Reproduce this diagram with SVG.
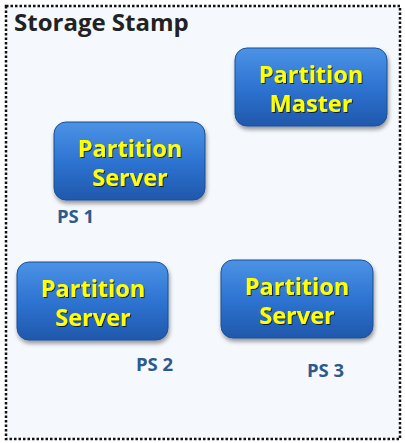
<svg xmlns="http://www.w3.org/2000/svg" width="405" height="443" viewBox="0 0 405 443">
<defs>
<linearGradient id="g" x1="0" y1="0" x2="0" y2="1">
<stop offset="0" stop-color="#4b93e6"/>
<stop offset="0.5" stop-color="#2e74d2"/>
<stop offset="1" stop-color="#2058ac"/>
</linearGradient>
<filter id="sh" x="-20%" y="-20%" width="140%" height="150%">
<feDropShadow dx="1" dy="3" stdDeviation="2" flood-color="#000" flood-opacity="0.4"/>
</filter>
<filter id="ts" x="-10%" y="-20%" width="120%" height="150%">
<feDropShadow dx="1" dy="1" stdDeviation="0.6" flood-color="#000" flood-opacity="0.7"/>
</filter>
</defs>
<style>
.box{fill:url(#g);stroke:#1d4f96;stroke-width:1;filter:url(#sh)}
.t{font-family:"Open Sans","Noto Sans",sans-serif;font-weight:bold;font-size:23.5px;fill:#ffff00;text-anchor:middle;filter:url(#ts)}
.lbl{font-family:"Open Sans","Noto Sans",sans-serif;font-weight:bold;font-size:18.5px;fill:#2c5a8c}
</style>
<rect x="0" y="0" width="405" height="443" fill="#ffffff"/>
<rect x="6" y="6" width="394" height="433" fill="#f5f8fc" stroke="#111" stroke-width="2.5" stroke-dasharray="2.5 2"/>
<text x="14" y="31" font-family="'Open Sans','Noto Sans',sans-serif" font-weight="bold" font-size="24" fill="#222">Storage Stamp</text>
<g id="connectors"></g>
<g id="master">
<rect class="box" x="235" y="48" width="152" height="78" rx="12"/>
<text class="t" x="311" y="83">Partition</text>
<text class="t" x="311" y="112">Master</text>
</g>
<g id="ps1">
<rect class="box" x="54" y="122" width="151" height="78" rx="12"/>
<text class="t" x="130" y="157">Partition</text>
<text class="t" x="130" y="186">Server</text>
<text class="lbl" x="57" y="223">PS 1</text>
</g>
<g id="ps2">
<rect class="box" x="17" y="262" width="151" height="78" rx="12"/>
<text class="t" x="93" y="297">Partition</text>
<text class="t" x="93" y="326">Server</text>
<text class="lbl" x="136" y="371">PS 2</text>
</g>
<g id="ps3">
<rect class="box" x="221" y="260" width="152" height="78" rx="12"/>
<text class="t" x="297" y="295">Partition</text>
<text class="t" x="297" y="324">Server</text>
<text class="lbl" x="307" y="377">PS 3</text>
</g>
</svg>
